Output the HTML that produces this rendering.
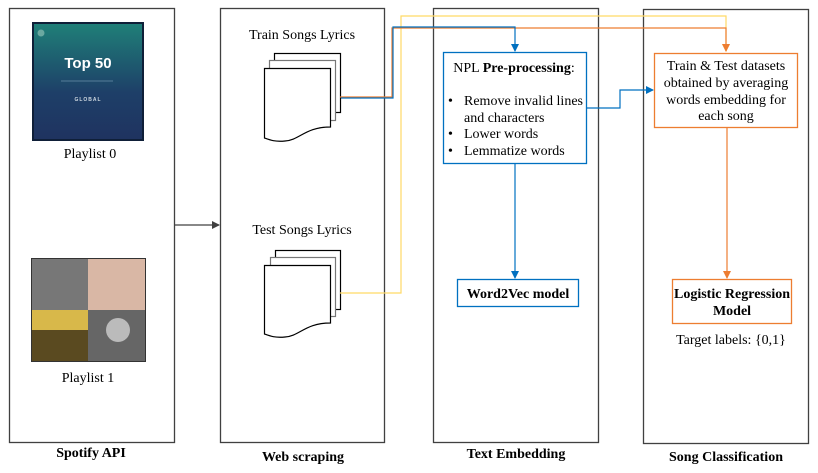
<!DOCTYPE html>
<html><head><meta charset="utf-8"><style>
html,body{margin:0;padding:0;background:#fff;}
svg{display:block;font-family:"Liberation Serif",serif;}
</style></head><body>
<svg width="818" height="473" viewBox="0 0 818 473" xmlns="http://www.w3.org/2000/svg">
<defs>
<linearGradient id="g1" x1="0" y1="0" x2="0" y2="1"><stop offset="0" stop-color="#1f7f78"/><stop offset="0.6" stop-color="#1e3f68"/><stop offset="1" stop-color="#1f3360"/></linearGradient>
<marker id="ab" markerWidth="8" markerHeight="8" refX="7" refY="4" orient="auto" markerUnits="userSpaceOnUse"><path d="M0,0 L8,4 L0,8z" fill="#0070c0"/></marker>
<marker id="ao" markerWidth="8" markerHeight="8" refX="7" refY="4" orient="auto" markerUnits="userSpaceOnUse"><path d="M0,0 L8,4 L0,8z" fill="#ed7d31"/></marker>
<marker id="ay" markerWidth="8" markerHeight="8" refX="7" refY="4" orient="auto" markerUnits="userSpaceOnUse"><path d="M0,0 L8,4 L0,8z" fill="#ffd966"/></marker>
<marker id="ak" markerWidth="8" markerHeight="8" refX="7" refY="4" orient="auto" markerUnits="userSpaceOnUse"><path d="M0,0 L8,4 L0,8z" fill="#404040"/></marker>
</defs>
<g fill="none" stroke="#404040" stroke-width="1.3">
<rect x="9.5" y="8.5" width="165" height="434"/>
<rect x="220.5" y="8.5" width="164" height="434"/>
<rect x="433.5" y="8.5" width="165" height="434"/>
<rect x="643.5" y="9.5" width="165" height="434"/>
</g>
<!-- Top 50 -->
<rect x="32" y="22" width="112" height="119" fill="#0f1f38"/>
<rect x="34" y="24" width="108" height="115" fill="url(#g1)"/>
<circle cx="41" cy="33" r="3.5" fill="#6aa8a0"/>
<text x="88" y="68" font-family="Liberation Sans,sans-serif" font-weight="bold" font-size="15" fill="#fff" text-anchor="middle">Top 50</text>
<line x1="61" y1="81" x2="113" y2="81" stroke="#6a8fa8" stroke-width="0.7"/>
<text x="88" y="101" font-family="Liberation Sans,sans-serif" font-weight="bold" font-size="5" fill="#cfd8e0" text-anchor="middle" letter-spacing="1">GLOBAL</text>
<text x="90" y="158" font-size="14" text-anchor="middle">Playlist 0</text>
<!-- Playlist1 collage -->
<rect x="31" y="258" width="115" height="104" fill="#333"/>
<rect x="32" y="259" width="56" height="51" fill="#777"/>
<rect x="88" y="259" width="57" height="51" fill="#d9b7a5"/>
<rect x="32" y="310" width="56" height="51" fill="#5a4a20"/>
<rect x="32" y="310" width="56" height="20" fill="#d8b84a"/>
<rect x="88" y="310" width="57" height="51" fill="#666"/>
<circle cx="118" cy="330" r="12" fill="#bbb"/>
<text x="88" y="382" font-size="14" text-anchor="middle">Playlist 1</text>
<!-- arrow spotify->web -->
<line x1="174" y1="225" x2="219" y2="225" stroke="#404040" stroke-width="1.2" marker-end="url(#ak)"/>
<text x="302" y="39" font-size="14" text-anchor="middle">Train Songs Lyrics</text>
<text x="302" y="234" font-size="14" text-anchor="middle">Test Songs Lyrics</text>
<!-- doc stacks -->
<g stroke-width="1.2" fill="#fff">
<rect x="274.5" y="53.5" width="66" height="59" stroke="#000"/>
<rect x="269.5" y="60.5" width="66" height="60" stroke="#777"/>
<path d="M264.5,68.5 H330.5 V127 C305,127 300,140 285,141 C275,142 270,140 264.5,138 Z" stroke="#000"/>
<rect x="275.5" y="250.5" width="65" height="59" stroke="#000"/>
<rect x="270.5" y="257.5" width="65" height="59" stroke="#777"/>
<path d="M264.5,265.5 H330.5 V323 C305,323 300,336 285,337 C275,338 270,336 264.5,334 Z" stroke="#000"/>
</g>
<!-- connectors -->
<g fill="none" stroke-width="1.2">
<path d="M340,293 H401 V16 H726 V51" stroke="#ffd966" marker-end="url(#ay)"/>
<path d="M340,97 H392 V28 H726 V51" stroke="#ed7d31" marker-end="url(#ao)"/>
<path d="M341,98 H393 V27 H515 V51" stroke="#0070c0" marker-end="url(#ab)"/>
<path d="M586,108 H620 V90 H653" stroke="#0070c0" marker-end="url(#ab)"/>
<path d="M515,164 V278" stroke="#0070c0" marker-end="url(#ab)"/>
<path d="M727,127 V278" stroke="#ed7d31" marker-end="url(#ao)"/>
</g>
<!-- NPL box -->
<rect x="443.5" y="52.5" width="143" height="111" fill="#fff" stroke="#0070c0" stroke-width="1.3"/>
<text x="514" y="72" font-size="14" text-anchor="middle">NPL <tspan font-weight="bold">Pre-processing</tspan>:</text>
<g font-size="14">
<text x="448" y="105">•</text><text x="464" y="105">Remove invalid lines</text>
<text x="464" y="122">and characters</text>
<text x="448" y="138">•</text><text x="464" y="138">Lower words</text>
<text x="448" y="155">•</text><text x="464" y="155">Lemmatize words</text>
</g>
<!-- orange box -->
<rect x="654.5" y="53.5" width="143" height="74" fill="#fff" stroke="#ed7d31" stroke-width="1.3"/>
<g font-size="14" text-anchor="middle">
<text x="726" y="70">Train &amp; Test datasets</text>
<text x="726" y="87">obtained by averaging</text>
<text x="726" y="104">words embedding for</text>
<text x="726" y="120">each song</text>
</g>
<rect x="457.5" y="279.5" width="121" height="27" fill="#fff" stroke="#0070c0" stroke-width="1.3"/>
<text x="518" y="298" font-size="14" font-weight="bold" text-anchor="middle">Word2Vec model</text>
<rect x="672.5" y="279.5" width="119" height="44" fill="#fff" stroke="#ed7d31" stroke-width="1.3"/>
<text x="732" y="298" font-size="14" font-weight="bold" text-anchor="middle">Logistic Regression</text>
<text x="732" y="315" font-size="14" font-weight="bold" text-anchor="middle">Model</text>
<text x="731" y="344" font-size="14" text-anchor="middle">Target labels: {0,1}</text>
<g font-size="14" font-weight="bold" text-anchor="middle">
<text x="91" y="457">Spotify API</text>
<text x="303" y="461">Web scraping</text>
<text x="516" y="458">Text Embedding</text>
<text x="726" y="461">Song Classification</text>
</g>
</svg>
</body></html>
